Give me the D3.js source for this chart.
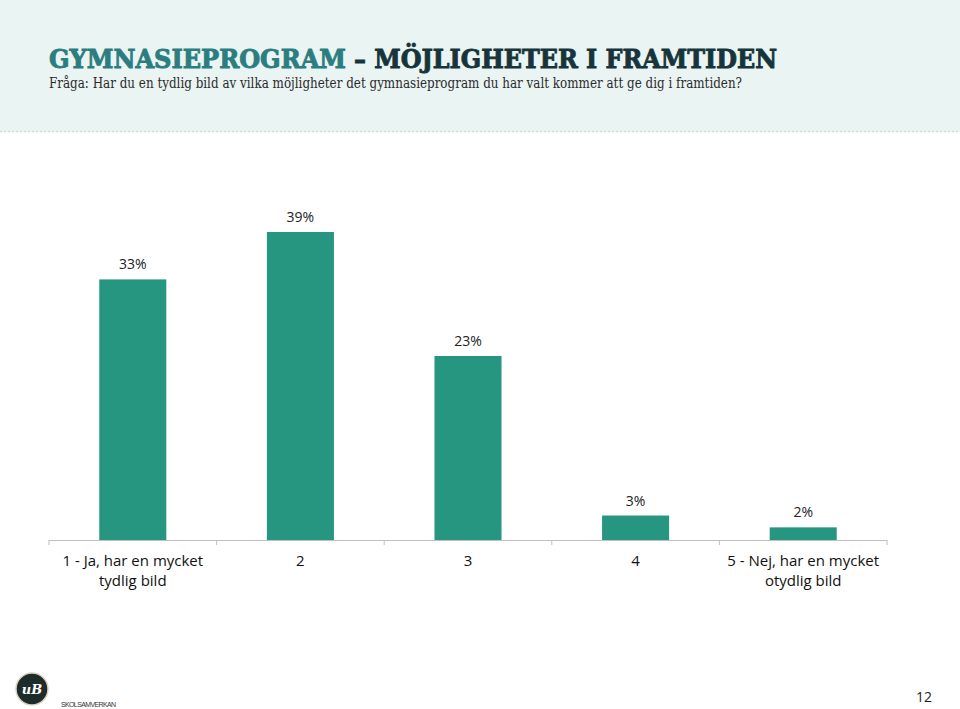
<!DOCTYPE html>
<html><head><meta charset="utf-8">
<script src="https://cdn.jsdelivr.net/npm/d3@7"></script>
<style>body{margin:0;background:#fff}svg{display:block}</style>
</head><body>
<svg id="c" width="960" height="709"></svg>
<script>
const categories = ["1 - Ja, har en mycket|tydlig bild", "2", "3", "4", "5 - Nej, har en mycket|otydlig bild"];
const values = [33, 39, 23.3, 3.1, 1.6];
const valueLabels = ["33%", "39%", "23%", "3%", "2%"];
const titleA = "GYMNASIEPROGRAM";
const titleB = "– MÖJLIGHETER I FRAMTIDEN";
const subtitle = "Fråga: Har du en tydlig bild av vilka möjligheter det gymnasieprogram du har valt kommer att ge dig i framtiden?";

const svg = d3.select("#c");
// header band
svg.append("rect").attr("x",0).attr("y",0).attr("width",960).attr("height",132).attr("fill","#e9f4f3");
svg.append("line").attr("x1",0).attr("x2",960).attr("y1",131.5).attr("y2",131.5)
  .attr("stroke","#cfe0df").attr("stroke-width",1.5).attr("stroke-dasharray","2,2");

svg.append("text").attr("x",49).attr("y",68).attr("font-family","DejaVu Serif").attr("font-weight","bold")
  .attr("font-size",26).attr("fill","#2b7d80").attr("stroke","#2b7d80").attr("stroke-width",0.9)
  .attr("textLength",297).attr("lengthAdjust","spacingAndGlyphs").text(titleA);
svg.append("text").attr("x",354).attr("y",68).attr("font-family","DejaVu Serif").attr("font-weight","bold")
  .attr("font-size",26).attr("fill","#17343a").attr("stroke","#17343a").attr("stroke-width",0.9)
  .attr("textLength",423).attr("lengthAdjust","spacingAndGlyphs").text(titleB);
svg.append("text").attr("x",49).attr("y",88).attr("font-family","DejaVu Serif")
  .attr("font-size",14).attr("fill","#2b2b2b").attr("textLength",693).attr("lengthAdjust","spacingAndGlyphs").text(subtitle);

const x = d3.scaleBand().domain(categories).range([49, 887]).paddingInner(0.6).paddingOuter(0.3);
const y = d3.scaleLinear().domain([0, 39]).range([540, 232]);

const g = svg.append("g");
g.selectAll("rect.bar").data(values).join("rect").attr("class","bar")
  .attr("x",(d,i)=>x(categories[i])).attr("width",x.bandwidth())
  .attr("y",d=>y(d)).attr("height",d=>540-y(d)).attr("fill","#279680");

g.selectAll("text.val").data(values).join("text").attr("class","val")
  .attr("x",(d,i)=>x(categories[i])+x.bandwidth()/2).attr("y",d=>y(d)-10)
  .attr("text-anchor","middle").attr("font-family","Open Sans").attr("font-size",14).attr("fill","#222")
  .text((d,i)=>valueLabels[i]);

// axis
svg.append("line").attr("x1",49).attr("x2",887).attr("y1",540.5).attr("y2",540.5).attr("stroke","#bfbfbf").attr("stroke-width",1);
const boundaries = d3.range(categories.length+1).map(i => 49 + i*(887-49)/categories.length);
svg.selectAll("line.tk").data(boundaries).join("line").attr("class","tk")
  .attr("x1",d=>d).attr("x2",d=>d).attr("y1",540).attr("y2",545).attr("stroke","#bfbfbf");

const labs = svg.selectAll("text.cat").data(categories).join("text").attr("class","cat")
  .attr("x",d=>x(d)+x.bandwidth()/2).attr("y",566).attr("text-anchor","middle")
  .attr("font-family","Open Sans").attr("font-size",15).attr("fill","#111");
labs.each(function(d){
  const parts = d.split("|");
  const t = d3.select(this);
  parts.forEach((p,i)=>t.append("tspan").attr("x",t.attr("x")).attr("dy",i?20:0).text(p));
});

// logos
svg.append("circle").attr("cx",32).attr("cy",689).attr("r",16).attr("fill","#1d2b2b").attr("stroke","#d8d2bd").attr("stroke-width",1.5);
svg.append("text").attr("x",32).attr("y",694).attr("text-anchor","middle").attr("font-family","DejaVu Serif")
  .attr("font-style","italic").attr("font-weight","bold").attr("font-size",13).attr("fill","#fff").text("uB");
svg.append("text").attr("x",61).attr("y",707).attr("font-family","Liberation Sans").attr("font-size",7).attr("fill","#333")
  .attr("textLength",55).text("SKOLSAMVERKAN");
svg.append("text").attr("x",932).attr("y",702).attr("text-anchor","end").attr("font-family","Open Sans").attr("font-size",14).attr("fill","#222").text("12");
</script>
</body></html>
